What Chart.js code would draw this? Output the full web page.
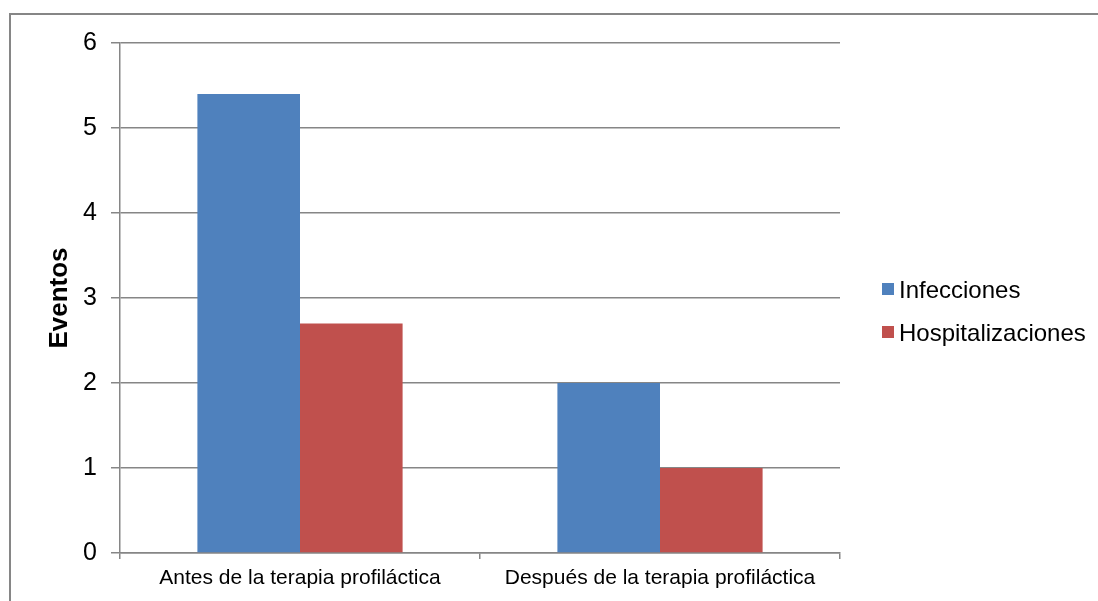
<!DOCTYPE html>
<html>
<head>
<meta charset="utf-8">
<script src="https://cdn.jsdelivr.net/npm/chart.js@4.4.1/dist/chart.umd.min.js"></script>
<style>
  html, body { margin: 0; padding: 0; background: #fff; }
  #wrap { width: 1098px; height: 601px; position: relative; }
</style>
</head>
<body>
<div id="wrap"><canvas id="grafico" width="1098" height="601"></canvas></div>
<script>
// datos
const categorias = ['Antes de la terapia profiláctica', 'Después de la terapia profiláctica'];
const infecciones = [5.4, 2.0];
const hospitalizaciones = [2.7, 1.0];
const etiquetasSeries = ['Infecciones', 'Hospitalizaciones'];
const coloresSeries = ['#4F81BD', '#C0504D'];
const tituloY = 'Eventos';

const gris = '#868686';
const fuente = "'Liberation Sans', Arial, sans-serif";

// marco exterior, titulo del eje y leyenda a mano
const marcoLeyenda = {
  id: 'marcoLeyenda',
  afterDraw(chart) {
    const ctx = chart.ctx;
    ctx.save();
    ctx.strokeStyle = gris;
    ctx.lineWidth = 2;
    ctx.strokeRect(10, 14, 1200, 700);

    // titulo eje y
    ctx.save();
    ctx.translate(59, 298);
    ctx.rotate(-Math.PI / 2);
    ctx.font = 'bold 26px ' + fuente;
    ctx.textAlign = 'center';
    ctx.textBaseline = 'middle';
    ctx.fillStyle = '#000';
    ctx.fillText(tituloY, 0, 1);
    ctx.restore();

    const ys = [289, 332];
    ctx.font = '24px ' + fuente;
    ctx.textBaseline = 'middle';
    chart.data.datasets.forEach(function(ds, i) {
      ctx.fillStyle = ds.backgroundColor;
      ctx.fillRect(882, ys[i] - 6, 12, 12);
      ctx.fillStyle = '#000';
      ctx.fillText(ds.label, 899, ys[i] + 2);
    });
    ctx.restore();
  }
};

const ctx = document.getElementById('grafico').getContext('2d');
new Chart(ctx, {
  type: 'bar',
  data: {
    labels: categorias,
    datasets: [
      { label: etiquetasSeries[0], data: infecciones, backgroundColor: coloresSeries[0] },
      { label: etiquetasSeries[1], data: hospitalizaciones, backgroundColor: coloresSeries[1] }
    ]
  },
  options: {
    responsive: false,
    animation: false,
    devicePixelRatio: 1,
    layout: { padding: { left: 0, top: 43, right: 258, bottom: 0 } },
    plugins: { legend: { display: false }, tooltip: { enabled: false } },
    datasets: { bar: { categoryPercentage: 0.57, barPercentage: 1 } },
    scales: {
      x: {
        offset: true,
        grid: { display: true, offset: true, drawOnChartArea: false, drawTicks: true, tickLength: 6, color: gris, lineWidth: 1.5 },
        border: { display: true, color: gris, width: 1.5 },
        ticks: { color: '#000', font: { family: fuente, size: 21 }, padding: 7, maxRotation: 0 },
        afterFit: function(s) { s.height = 48; }
      },
      y: {
        min: 0, max: 6,
        ticks: { stepSize: 1, color: '#000', font: { family: fuente, size: 25 }, padding: 14 },
        grid: { color: gris, lineWidth: 1.5, tickLength: 9 },
        border: { display: true, color: gris, width: 1.5 },
        afterFit: function(s) { s.width = 120; }
      }
    }
  },
  plugins: [marcoLeyenda]
});
</script>
</body>
</html>
